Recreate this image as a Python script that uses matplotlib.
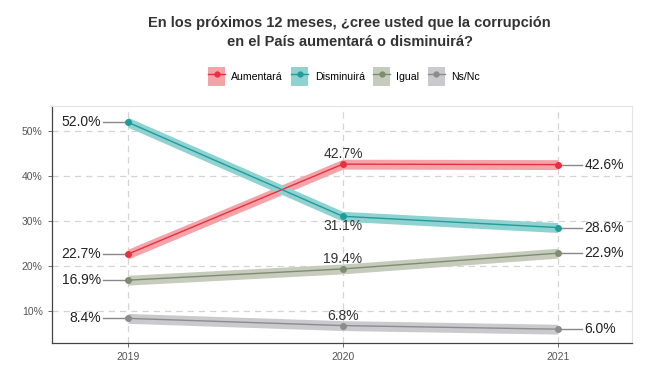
import numpy as np
import matplotlib
matplotlib.use('Agg')
import matplotlib.pyplot as plt
from matplotlib.patches import Patch
from matplotlib.lines import Line2D

# Data
years = [2019, 2020, 2021]
series = ['Aumentará', 'Disminuirá', 'Igual', 'Ns/Nc']
aumentara = [22.7, 42.7, 42.6]
disminuira = [52.0, 31.1, 28.6]
igual = [16.9, 19.4, 22.9]
nsnc = [8.4, 6.8, 6.0]
values = [aumentara, disminuira, igual, nsnc]
# position of the 2020 label relative to the point
mid_pos = ['above', 'below', 'above', 'above']

line_colors = ['#E8303F', '#1F9C9C', '#7E8C72', '#8C8C8C']
band_colors = ['#F4A3A9', '#90D2D0', '#C6CCBC', '#CACACE']
band = 1.1

plt.rcParams['font.family'] = ['Liberation Sans', 'DejaVu Sans']

fig = plt.figure(figsize=(6.55, 3.75), dpi=100)
ax = fig.add_axes([0.079, 0.085, 0.886, 0.632])

for vals, lc, bc in zip(values, line_colors, band_colors):
    v = np.array(vals)
    ax.fill_between(years, v - band, v + band, color=bc, linewidth=0, zorder=2)
    ax.plot(years, v, color=lc, lw=1, marker='o', ms=4, zorder=3)

for vals, pos in zip(values, mid_pos):
    # 2019 labels on the left with leader line
    ax.plot([years[0] - 0.115, years[0]], [vals[0], vals[0]], color='#888888', lw=1, zorder=1)
    ax.text(years[0] - 0.125, vals[0], '%.1f%%' % vals[0], ha='right', va='center',
            fontsize=10, color='#222222')
    # 2021 labels on the right
    ax.plot([years[2], years[2] + 0.115], [vals[2], vals[2]], color='#888888', lw=1, zorder=1)
    ax.text(years[2] + 0.125, vals[2], '%.1f%%' % vals[2], ha='left', va='center',
            fontsize=10, color='#222222')
    # 2020 labels above/below
    if pos == 'above':
        ax.text(years[1], vals[1] + 0.6, '%.1f%%' % vals[1], ha='center', va='bottom',
                fontsize=10, color='#333333')
    else:
        ax.text(years[1], vals[1] - 0.6, '%.1f%%' % vals[1], ha='center', va='top',
                fontsize=10, color='#333333')

ax.set_xlim(2018.645, 2021.346)
ax.set_ylim(2.9, 55.6)
ax.set_xticks(years)
ax.set_yticks([10, 20, 30, 40, 50])
ax.set_yticklabels(['10%', '20%', '30%', '40%', '50%'])
ax.tick_params(axis='both', labelsize=7.5, colors='#555555', length=3, width=0.6)
ax.grid(True, linestyle=(0, (5, 4)), color='#D4D4D4', lw=0.9, zorder=0)
ax.set_axisbelow(True)
for s in ['left', 'bottom']:
    ax.spines[s].set_color('#444444')
    ax.spines[s].set_linewidth(0.9)
for s in ['top', 'right']:
    ax.spines[s].set_color('#E3E3E3')
    ax.spines[s].set_linewidth(0.8)

fig.text(0.534, 0.913, 'En los próximos 12 meses, ¿cree usted que la corrupción\nen el País aumentará o disminuirá?',
         ha='center', va='center', fontsize=10.5, fontweight='bold', color='#333333', linespacing=1.4)

handles = []
for lc, bc in zip(line_colors, band_colors):
    handles.append((Patch(facecolor=bc, edgecolor='none'),
                    Line2D([], [], color=lc, marker='o', ms=3.5, lw=1)))
fig.legend(handles, series, loc='center', bbox_to_anchor=(0.525, 0.795), ncol=4,
           frameon=False, fontsize=7.6, handlelength=1.6, handleheight=2.4,
           columnspacing=0.8, handletextpad=0.6)

plt.savefig('out.png', dpi=100)
